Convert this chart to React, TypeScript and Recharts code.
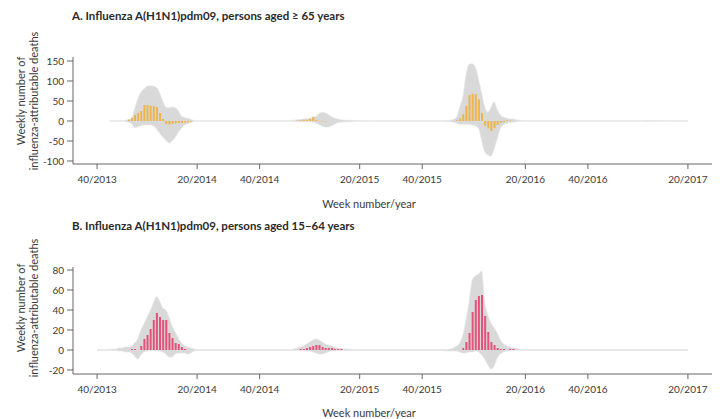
import { Area, Bar, ComposedChart, XAxis, YAxis } from 'recharts'

// week index 0 = week 40/2013
const tickWeeks = [0, 32, 52, 84, 104, 137, 157, 189]
const tickLabels = ['40/2013', '20/2014', '40/2014', '20/2015', '40/2015', '20/2016', '40/2016', '20/2017']

// Panel A: persons aged >= 65 years
const bandWeeksA = [
  4, 8, 9, 10, 11, 12, 13, 14, 15, 16, 17, 18, 19, 20, 21, 22, 23, 24, 25, 26, 27, 28, 29, 30, 31, 33,
  60, 62, 64, 66, 68, 69, 70, 71, 72, 73, 74, 75, 76, 77, 78, 80, 82, 84, 87,
  108, 111, 113, 114, 115, 116, 117, 118, 119, 120, 121, 122, 123, 124, 125, 126, 127, 128, 129, 130, 131, 132, 133, 134, 135, 137, 140,
  172, 176, 180, 189
]
const bandLowA = [
  -0.4, -0.5, -1, -3, -6, -17, -15, -12, -10, -10, -10, -12, -20, -30, -40, -48, -55, -50, -40, -28, -18, -10, -6, -3, -1, -0.4,
  -0.4, -0.5, -1, -2, -2, -3, -5, -9, -13, -15, -15, -12, -8, -4, -3, -2, -1, -0.5, -0.4,
  -0.4, -1, -2, -3, -5, -8, -8, -8, -8, -10, -12, -18, -48, -77, -85, -88, -70, -45, -18, -9, -6, -4, -3, -2, -1, -0.5, -0.4,
  -0.4, -1, -0.5, -0.4
]
const bandHighA = [
  0.4, 1, 2, 3, 5, 30, 55, 72, 80, 87, 88, 87, 84, 70, 50, 35, 33, 35, 33, 25, 12, 9, 7, 4, 1.5, 0.4,
  0.4, 1, 3, 5, 7, 9, 12, 18, 22, 20, 16, 11, 7, 5, 3, 2, 1.5, 1, 0.4,
  0.4, 1, 2, 4, 10, 35, 60, 115, 142, 143, 135, 105, 70, 35, 22, 33, 48, 28, 15, 10, 7, 5, 5, 3, 2, 1, 0.4,
  0.4, 1.5, 1, 0.4
]
const barWeeksA = [
  10, 11, 12, 13, 14, 15, 16, 17, 18, 19, 20, 21, 22, 23, 24, 25, 26, 27, 28, 29, 30,
  64, 65, 66, 67, 68, 69, 70, 71, 72, 73,
  115, 116, 117, 118, 119, 120, 121, 122, 123, 124, 125, 126, 127, 128, 129, 130, 131, 132
]
const barValuesA = [
  4, 8, 15, 20, 25, 40, 40, 38, 37, 35, 20, 5, -8, -8, -7, -6, -5, -5, -4, -3, -2,
  1, 2, 3, 3, 5, 10, 3, -1, -1, -1,
  2, 7, 17, 38, 65, 68, 67, 54, 20, -12, -18, -25, -18, -10, -5, -3, 2, 1
]

// Panel B: persons aged 15-64 years
const bandWeeksB = [
  0, 6, 7, 8, 9, 10, 11, 12, 13, 14, 15, 16, 17, 18, 19, 20, 21, 22, 23, 24, 25, 26, 27, 28, 29, 30, 31, 33,
  60, 62, 63, 64, 65, 66, 67, 68, 69, 70, 71, 72, 73, 74, 75, 76, 77, 78, 79, 80, 82, 84,
  110, 112, 113, 114, 115, 116, 117, 118, 119, 120, 121, 122, 123, 124, 125, 126, 127, 128, 129, 130, 131, 132, 133, 134, 135, 136, 138,
  189
]
const bandLowB = [
  -0.4, -0.5, -1, -1, -2, -2, -3, -6, -9, -5, -2, -1, -0.5, -0.5, -0.5, -1, -2, -4, -7, -7, -4, -3, -3, -3, -4, -3, -1, -0.4,
  -0.4, -0.5, -0.5, -0.5, -0.5, -0.5, -1, -1, -2, -3, -4, -4, -3, -2, -1, -1, -0.5, -0.5, -0.5, -0.5, -0.4, -0.4,
  -0.4, -1, -1, -1, -1, -2, -3, -3, -2, -2, -1, -2, -5, -9, -15, -19, -16, -8, -4, -2, -1, -0.5, -0.5, -0.4, -0.4, -0.4, -0.4,
  -0.4
]
const bandHighB = [
  0.4, 1, 2, 2, 3, 3, 4, 7, 11, 20, 26, 33, 39, 47, 53, 49, 42, 40, 33, 24, 18, 12, 7, 4, 3, 2, 1, 0.4,
  0.4, 0.5, 1, 2, 3, 4, 6, 8, 10, 11, 10, 8, 6, 5, 4, 3, 2, 1.5, 1, 1, 0.5, 0.4,
  0.4, 0.5, 1, 2, 4, 7, 15, 30, 48, 70, 74, 76, 79, 48, 35, 27, 22, 17, 10, 6, 4, 3, 2, 2, 1, 0.5, 0.4,
  0.4
]
const barWeeksB = [
  11, 12, 14, 15, 16, 17, 18, 19, 20, 21, 22, 23, 24, 25, 26, 27, 28,
  65, 66, 67, 68, 69, 70, 71, 72, 73, 74, 75, 76, 77, 78,
  117, 118, 119, 120, 121, 122, 123, 124, 125, 126, 127, 128, 129, 130, 132, 133
]
const barValuesB = [
  1, 1, 4, 11, 15, 21, 30, 37, 33, 30, 30, 17, 12, 7, 6, 3, 1,
  1, 1, 2, 3, 4, 5, 5, 3, 2, 2, 2, 1, 1, 1,
  2, 8, 17, 38, 50, 54, 55, 34, 18, 8, 5, 2, 1, 1, 1, 1
]

type Row = { week: number; band: [number, number] | null; deaths: number | null }

const buildRows = (
  bandWeeks: number[],
  bandLow: number[],
  bandHigh: number[],
  barWeeks: number[],
  barValues: number[]
): Row[] => {
  const map = new Map<number, Row>()
  const get = (w: number) => {
    if (!map.has(w)) map.set(w, { week: w, band: null, deaths: null })
    return map.get(w) as Row
  }
  bandWeeks.forEach((w, i) => {
    get(w).band = [bandLow[i], bandHigh[i]]
  })
  barWeeks.forEach((w, i) => {
    get(w).deaths = barValues[i]
  })
  return Array.from(map.values()).sort((a, b) => a.week - b.week)
}

const rowsA = buildRows(bandWeeksA, bandLowA, bandHighA, barWeeksA, barValuesA)
const rowsB = buildRows(bandWeeksB, bandLowB, bandHighB, barWeeksB, barValuesB)

const FONT = 'Lato, "Open Sans", sans-serif'
const TEXT = '#3a3a3a'
const AXIS = '#666'

type PanelProps = {
  title: string
  rows: Row[]
  yDomain: [number, number]
  yTicks: number[]
  color: string
  top: number
  height: number
  labelCenterY: number
}

const Panel = ({ title, rows, yDomain, yTicks, color, top, height, labelCenterY }: PanelProps) => (
  <div style={{ position: 'absolute', left: 0, top, width: 725, height }}>
    <div
      style={{
        position: 'absolute',
        left: 72,
        top: 9,
        fontSize: 11.5,
        fontWeight: 700,
        color: '#2a2a2a',
        whiteSpace: 'nowrap'
      }}
    >
      {title}
    </div>
    <div
      style={{
        position: 'absolute',
        left: 27 - 80,
        top: labelCenterY - 13,
        width: 160,
        height: 26,
        fontSize: 11,
        lineHeight: '13px',
        color: TEXT,
        textAlign: 'center',
        transform: 'rotate(-90deg)',
        whiteSpace: 'nowrap'
      }}
    >
      Weekly number of
      <br />
      influenza-attributable deaths
    </div>
    <div
      style={{
        position: 'absolute',
        left: 369 - 60,
        top: height - 13,
        width: 120,
        fontSize: 11,
        color: TEXT,
        textAlign: 'center'
      }}
    >
      Week number/year
    </div>
    <ComposedChart
      width={725}
      height={height}
      data={rows}
      margin={{ top: 57, right: 13, bottom: height - 164 - 30, left: 33 }}
    >
      <XAxis
        dataKey="week"
        type="number"
        domain={[-7.7, 196.7]}
        ticks={tickWeeks}
        tickFormatter={(v: number) => tickLabels[tickWeeks.indexOf(v)] ?? ''}
        height={30}
        stroke={AXIS}
        tickSize={5}
        tickMargin={7}
        tick={{ fontSize: 10, fill: TEXT }}
      />
      <YAxis
        type="number"
        domain={yDomain}
        ticks={yTicks}
        width={40}
        stroke={AXIS}
        tickSize={6}
        tickMargin={3}
        tick={{ fontSize: 10, fill: TEXT }}
      />
      <Area
        dataKey="band"
        type="monotone"
        fill="#d9d9d9"
        fillOpacity={1}
        stroke="#e6e6e6"
        strokeWidth={0.7}
        connectNulls
        isAnimationActive={false}
      />
      <Bar dataKey="deaths" fill={color} barSize={2} isAnimationActive={false} />
    </ComposedChart>
  </div>
)

const App = () => (
  <div
    style={{
      position: 'absolute',
      left: 0,
      top: 0,
      width: 725,
      height: 419,
      background: '#fff',
      fontFamily: FONT
    }}
  >
    <Panel
      title="A. Influenza A(H1N1)pdm09, persons aged ≥ 65 years"
      rows={rowsA}
      yDomain={[-107.5, 160]}
      yTicks={[-100, -50, 0, 50, 100, 150]}
      color="#ebb54c"
      top={0}
      height={210}
      labelCenterY={101}
    />
    <Panel
      title="B. Influenza A(H1N1)pdm09, persons aged 15–64 years"
      rows={rowsB}
      yDomain={[-24, 83]}
      yTicks={[-20, 0, 20, 40, 60, 80]}
      color="#e4527a"
      top={210}
      height={209}
      labelCenterY={98}
    />
  </div>
)

export default App
